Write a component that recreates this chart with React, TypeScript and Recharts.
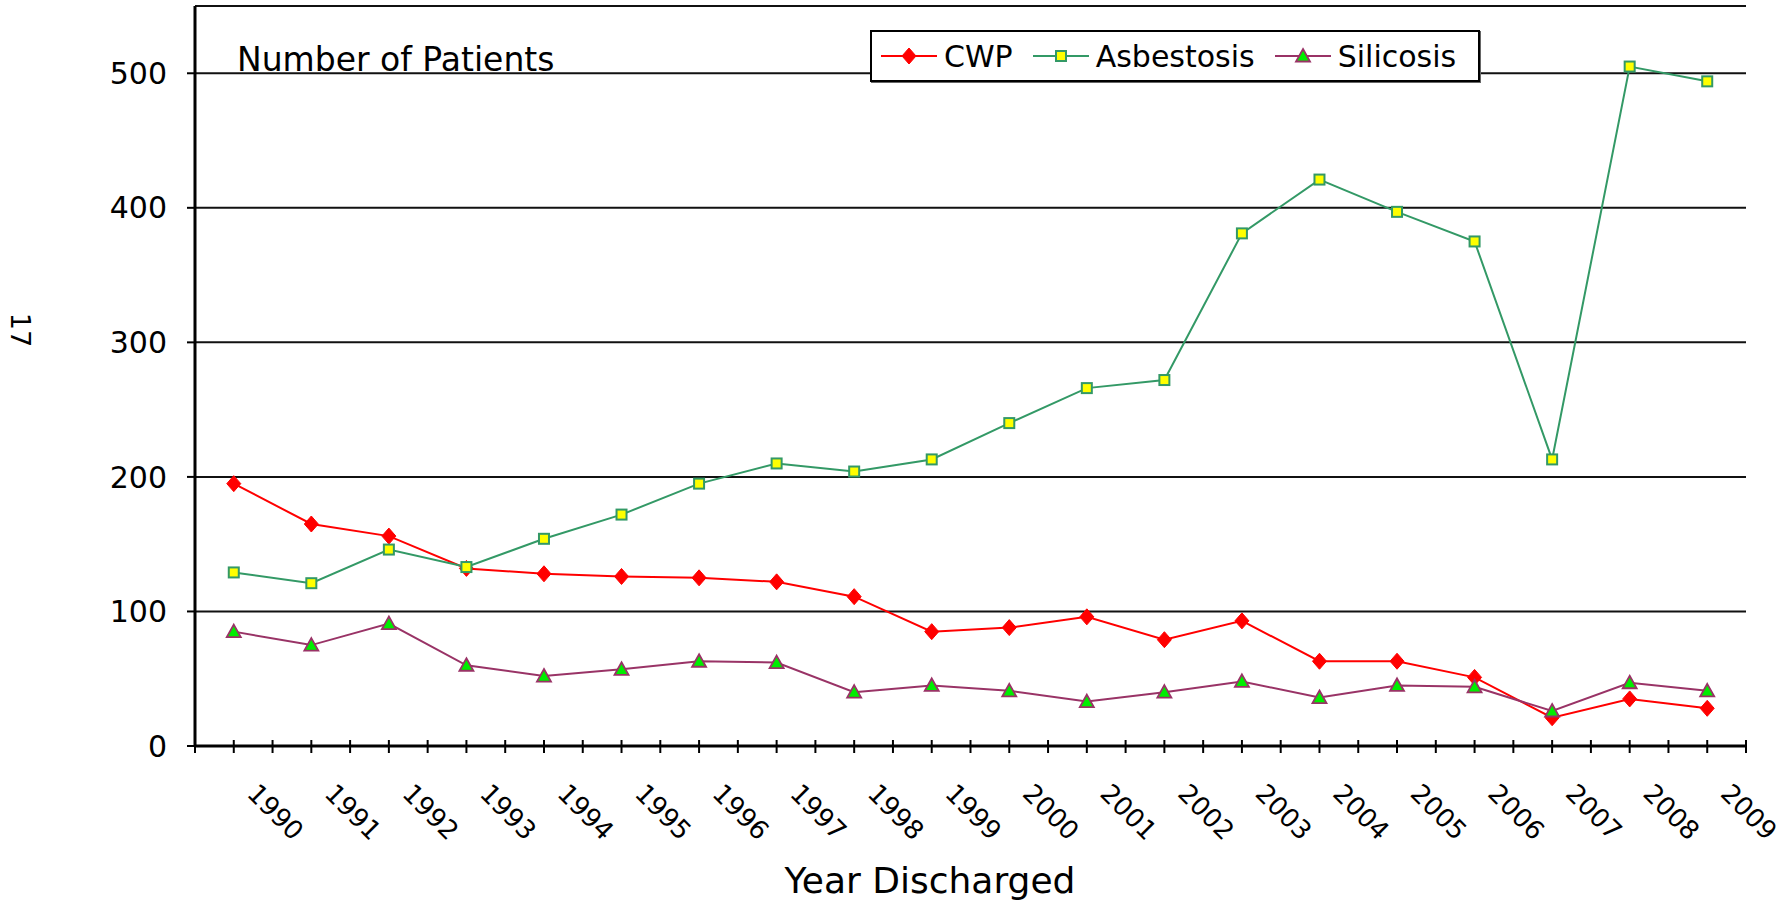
// Patients discharged by year: CWP, Asbestosis, Silicosis

import {
  LineChart,
  Line,
  XAxis,
  YAxis,
  CartesianGrid,
  Legend,
} from 'recharts';

const years = [
  '1990', '1991', '1992', '1993', '1994', '1995', '1996', '1997', '1998', '1999',
  '2000', '2001', '2002', '2003', '2004', '2005', '2006', '2007', '2008', '2009',
];
const cwp = [195, 165, 156, 132, 128, 126, 125, 122, 111, 85, 88, 96, 79, 93, 63, 63, 51, 21, 35, 28];
const asbestosis = [129, 121, 146, 133, 154, 172, 195, 210, 204, 213, 240, 266, 272, 381, 421, 397, 375, 213, 505, 494];
const silicosis = [85, 75, 91, 60, 52, 57, 63, 62, 40, 45, 41, 33, 40, 48, 36, 45, 44, 26, 47, 41];
const yTicks = [0, 100, 200, 300, 400, 500];
const legendOrder = ['cwp', 'asbestosis', 'silicosis'];

const data = years.map((year, i) => ({
  year,
  cwp: cwp[i],
  asbestosis: asbestosis[i],
  silicosis: silicosis[i],
}));

const FONT = '"DejaVu Sans", sans-serif';
const W = 1787;
const H = 900;
const MARGIN = { top: 6, right: 41, left: 0, bottom: 0 };
const Y_WIDTH = 195;
const X_HEIGHT = 154;
const BAND = (W - MARGIN.right - Y_WIDTH) / years.length;

const RED = '#ff0000';
const GREEN = '#339966';
const PLUM = '#993366';

function Diamond({ cx, cy }: { cx: number; cy: number }) {
  return (
    <polygon
      points={`${cx},${cy - 8} ${cx + 7},${cy} ${cx},${cy + 8} ${cx - 7},${cy}`}
      fill={RED}
      stroke={RED}
      strokeWidth={1}
    />
  );
}

function Square({ cx, cy }: { cx: number; cy: number }) {
  return <rect x={cx - 5} y={cy - 5} width={10} height={10} fill="#ffff00" stroke={GREEN} strokeWidth={2} />;
}

function Triangle({ cx, cy }: { cx: number; cy: number }) {
  return (
    <polygon
      points={`${cx},${cy - 7} ${cx + 7},${cy + 5.5} ${cx - 7},${cy + 5.5}`}
      fill="#00ee00"
      stroke={PLUM}
      strokeWidth={1.8}
    />
  );
}

const markers: Record<string, (p: { cx: number; cy: number }) => JSX.Element> = {
  cwp: Diamond,
  asbestosis: Square,
  silicosis: Triangle,
};

function YearTick({ x, y, payload, index }: any) {
  const half = BAND / 2;
  const tx = x + 12;
  const ty = y + 49;
  return (
    <g>
      <line x1={x} x2={x} y1={y - 6} y2={y + 7} stroke="#000" strokeWidth={2} />
      <line x1={x - half} x2={x - half} y1={y - 6} y2={y + 7} stroke="#000" strokeWidth={2} />
      {index === years.length - 1 && (
        <line x1={x + half} x2={x + half} y1={y - 6} y2={y + 7} stroke="#000" strokeWidth={2} />
      )}
      <text
        x={tx}
        y={ty}
        transform={`rotate(45 ${tx} ${ty})`}
        textAnchor="start"
        fontSize={26}
        fontFamily={FONT}
        fill="#000"
      >
        {payload.value}
      </text>
    </g>
  );
}

function LegendBox({ payload }: any) {
  const items = [...(payload || [])].sort(
    (a: any, b: any) => legendOrder.indexOf(a.dataKey) - legendOrder.indexOf(b.dataKey),
  );
  return (
    <div
      style={{
        boxSizing: 'border-box',
        width: 610,
        height: 52,
        border: '2px solid #000',
        background: '#fff',
        boxShadow: '1px 1px 0 #666',
        display: 'flex',
        alignItems: 'center',
        paddingLeft: 9,
        fontFamily: FONT,
        fontSize: 30,
        color: '#000',
      }}
    >
      {items.map((item: any) => {
        const Marker = markers[item.dataKey];
        return (
          <div key={item.dataKey} style={{ display: 'flex', alignItems: 'center', marginRight: 20 }}>
            <svg width={56} height={20} style={{ marginRight: 7 }}>
              <line x1={0} x2={56} y1={10} y2={10} stroke={item.color} strokeWidth={2} />
              <Marker cx={28} cy={10} />
            </svg>
            <span>{item.value}</span>
          </div>
        );
      })}
    </div>
  );
}

export default function App() {
  return (
    <div style={{ position: 'absolute', left: 0, top: 0, width: W, height: H, background: '#fff' }}>
      <svg style={{ position: 'absolute', left: 0, top: 0 }} width={60} height={H}>
        <text x={11} y={330} transform="rotate(90 11 330)" textAnchor="middle" fontSize={27} fontFamily={FONT} fill="#000">
          17
        </text>
      </svg>
      <LineChart width={W} height={H} data={data} margin={MARGIN}>
        <CartesianGrid horizontal vertical={false} stroke="#111" strokeWidth={2} />
        {/* top and right edges of the plot frame */}
        <XAxis
          xAxisId="top"
          orientation="top"
          dataKey="year"
          height={0}
          tick={false}
          tickLine={false}
          axisLine={{ stroke: '#000', strokeWidth: 2.5 }}
        />
        <YAxis
          yAxisId="right"
          orientation="right"
          width={0}
          domain={[0, 550]}
          tick={false}
          tickLine={false}
          axisLine={{ stroke: '#000', strokeWidth: 2.5 }}
        />
        <XAxis
          dataKey="year"
          height={X_HEIGHT}
          interval={0}
          padding={{ left: BAND / 2, right: BAND / 2 }}
          tickLine={false}
          tickSize={0}
          tickMargin={0}
          axisLine={{ stroke: '#000', strokeWidth: 3 }}
          tick={<YearTick />}
          label={{
            content: () => (
              <text x={930} y={893} textAnchor="middle" fontSize={36} fontFamily={FONT} fill="#000">
                Year Discharged
              </text>
            ),
          }}
        />
        <YAxis
          width={Y_WIDTH}
          domain={[0, 550]}
          ticks={yTicks}
          tickSize={8}
          tickMargin={20}
          tickLine={{ stroke: '#000', strokeWidth: 2 }}
          axisLine={{ stroke: '#000', strokeWidth: 3 }}
          tick={{ fontSize: 30, fontFamily: FONT, fill: '#000' }}
          label={{
            content: () => (
              <text x={237} y={71} fontSize={33} fontFamily={FONT} fill="#000">
                Number of Patients
              </text>
            ),
          }}
        />
        <Legend
          layout="horizontal"
          verticalAlign="middle"
          align="center"
          wrapperStyle={{ left: 870, top: 30, width: 610, height: 52 }}
          content={<LegendBox />}
        />
        <Line
          dataKey="cwp"
          name="CWP"
          type="linear"
          stroke={RED}
          strokeWidth={2}
          dot={(p: any) => <Diamond key={p.index} cx={p.cx} cy={p.cy} />}
          isAnimationActive={false}
        />
        <Line
          dataKey="asbestosis"
          name="Asbestosis"
          type="linear"
          stroke={GREEN}
          strokeWidth={2}
          dot={(p: any) => <Square key={p.index} cx={p.cx} cy={p.cy} />}
          isAnimationActive={false}
        />
        <Line
          dataKey="silicosis"
          name="Silicosis"
          type="linear"
          stroke={PLUM}
          strokeWidth={2}
          dot={(p: any) => <Triangle key={p.index} cx={p.cx} cy={p.cy} />}
          isAnimationActive={false}
        />
      </LineChart>
    </div>
  );
}
